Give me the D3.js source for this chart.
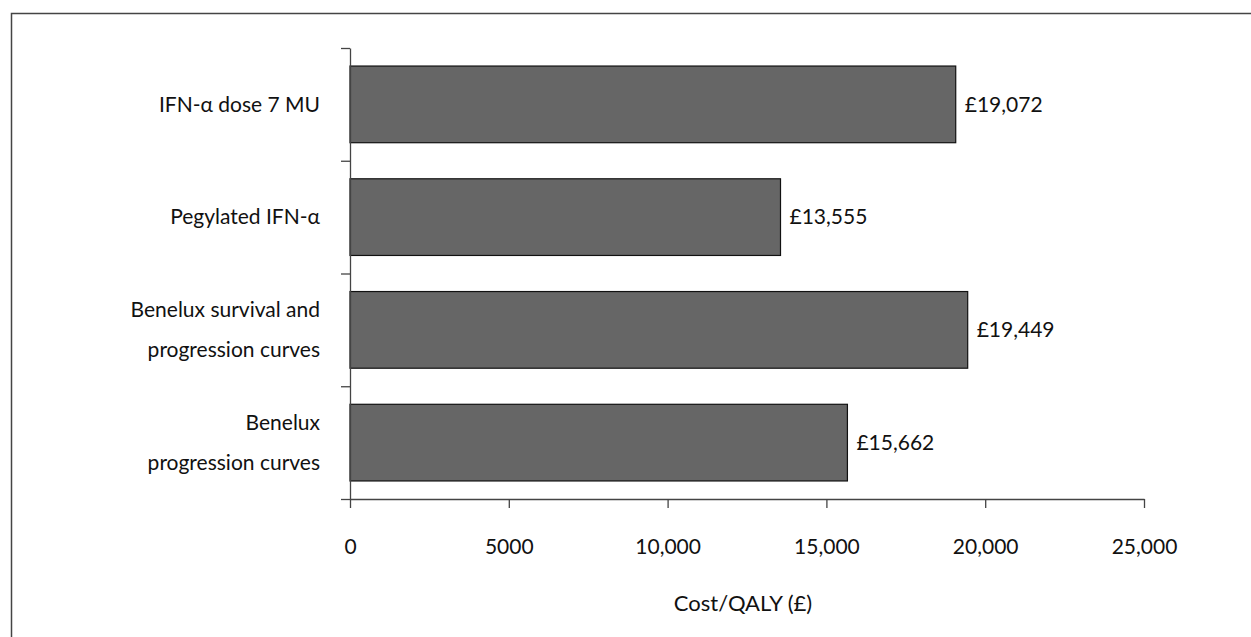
<!DOCTYPE html>
<html>
<head>
<meta charset="utf-8">
<script src="https://cdn.jsdelivr.net/npm/d3@7"></script>
<style>
  html, body { margin: 0; padding: 0; background: #fff; }
  svg { display: block; }
  text { font-family: Lato, "Open Sans", sans-serif; fill: #111; }
</style>
</head>
<body>
<svg id="chart" width="1251" height="637"></svg>
<script>
// Cost per QALY under alternative scenarios
const categories = [
  ["IFN-\u03b1 dose 7 MU"],
  ["Pegylated IFN-\u03b1"],
  ["Benelux survival and", "progression curves"],
  ["Benelux", "progression curves"]
];
const costs = [19072, 13555, 19449, 15662];
const valueLabels = ["\u00a319,072", "\u00a313,555", "\u00a319,449", "\u00a315,662"];
const xTicks = [0, 5000, 10000, 15000, 20000, 25000];
const xTickLabels = ["0", "5000", "10,000", "15,000", "20,000", "25,000"];
const axisTitle = "Cost/QALY (\u00a3)";

const fontSize = 21;
const svg = d3.select("#chart");

// Outer frame (right and bottom edges run off the page)
svg.append("rect")
  .attr("x", 11.5).attr("y", 13.5)
  .attr("width", 1300).attr("height", 700)
  .attr("fill", "none").attr("stroke", "#444").attr("stroke-width", 1.5);

const plotLeft = 350, plotRight = 1144, plotTop = 48, plotBottom = 499;
const idx = d3.range(categories.length);

const x = d3.scaleLinear().domain([0, 25000]).range([plotLeft, plotRight]);
const y = d3.scaleBand().domain(idx).range([plotTop, plotBottom]).paddingInner(0.32).paddingOuter(0.16);

// Bars
svg.append("g").selectAll("rect")
  .data(idx)
  .join("rect")
  .attr("x", x(0))
  .attr("y", i => y(i))
  .attr("width", i => x(costs[i]) - x(0))
  .attr("height", y.bandwidth())
  .attr("fill", "#666666")
  .attr("stroke", "#111")
  .attr("stroke-width", 1.2);

// Value labels
svg.append("g").selectAll("text")
  .data(idx)
  .join("text")
  .attr("x", i => x(costs[i]) + 9)
  .attr("y", i => y(i) + y.bandwidth() / 2)
  .attr("dy", "0.35em")
  .attr("font-size", fontSize)
  .text(i => valueLabels[i]);

// X axis
const xAxis = d3.axisBottom(x)
  .tickValues(xTicks)
  .tickFormat((d, i) => xTickLabels[i])
  .tickSize(9)
  .tickSizeOuter(0)
  .tickPadding(31);
const gx = svg.append("g").attr("transform", `translate(0,${plotBottom})`).call(xAxis);
gx.select(".domain").attr("stroke", "#444").attr("stroke-width", 1.3);
gx.selectAll(".tick line").attr("stroke", "#444").attr("stroke-width", 1.3);
gx.selectAll(".tick text").attr("font-size", fontSize).attr("font-family", "Lato, 'Open Sans', sans-serif").attr("fill", "#111");

// Y axis: ticks at band boundaries
const bScale = d3.scaleLinear().domain([0, categories.length]).range([plotTop, plotBottom]);
const yAxis = d3.axisLeft(bScale)
  .tickValues(d3.range(categories.length + 1))
  .tickFormat("")
  .tickSize(9)
  .tickSizeOuter(0);
const gy = svg.append("g").attr("transform", `translate(${plotLeft},0)`).call(yAxis);
gy.select(".domain").attr("stroke", "#444").attr("stroke-width", 1.3);
gy.selectAll(".tick line").attr("stroke", "#444").attr("stroke-width", 1.3);

// Category labels
const lineGap = 40;
svg.append("g").selectAll("text")
  .data(idx)
  .join("text")
  .attr("text-anchor", "end")
  .attr("font-size", fontSize)
  .each(function(i) {
    const lines = categories[i];
    const cy = y(i) + y.bandwidth() / 2;
    const t = d3.select(this);
    lines.forEach((ln, k) => {
      t.append("tspan")
        .attr("x", 320)
        .attr("y", cy + (k - (lines.length - 1) / 2) * lineGap)
        .attr("dy", "0.35em")
        .text(ln);
    });
  });

// Axis title
svg.append("text")
  .attr("x", (plotLeft + plotRight) / 2 - 4)
  .attr("y", 603)
  .attr("dy", "0.35em")
  .attr("text-anchor", "middle")
  .attr("font-size", 22)
  .text(axisTitle);
</script>
</body>
</html>
